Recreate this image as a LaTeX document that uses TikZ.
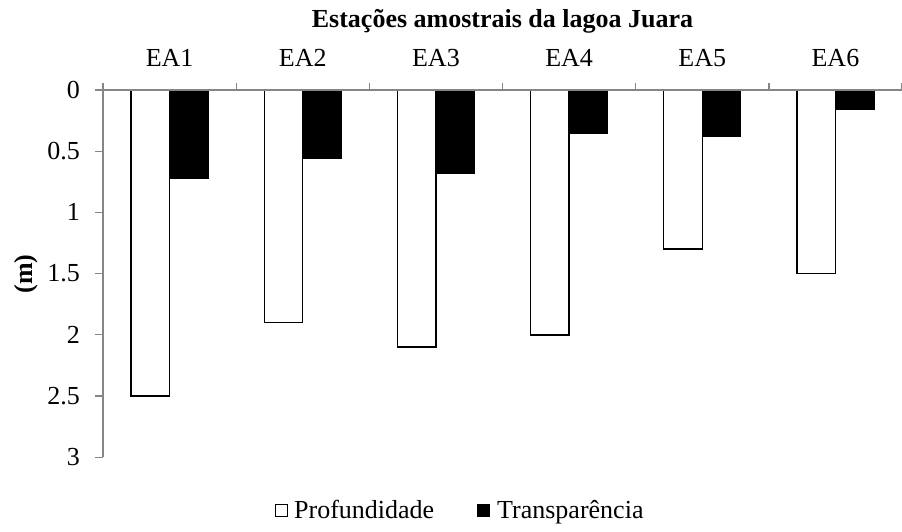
\documentclass[tikz,border=0pt]{standalone}
\usepackage{fontspec}
\setmainfont{Liberation Serif}
\definecolor{axisgray}{HTML}{868686}
\begin{document}
\begin{tikzpicture}[x=1pt,y=-1pt,
  axis/.style={draw=axisgray, line width=1.3pt},
  lbl/.style={font=\fontsize{26}{30}\selectfont, inner sep=0pt},
  whitebar/.style={draw=black, fill=white, line width=1.4pt},
  blackbar/.style={draw=black, fill=black, line width=0.6pt},
  keybox/.style={draw=black, line width=1pt}]
\useasboundingbox (0,0) rectangle (902,532);
% title
\node[lbl, font=\fontsize{26}{30}\selectfont\bfseries, anchor=base] (title) at (502.5,28) {Estações amostrais da lagoa Juara};
% bars and category labels
\foreach \i/\p/\t/\lab in {0/2.5/0.72/EA1, 1/1.9/0.555/EA2, 2/2.1/0.68/EA3, 3/2.0/0.35/EA4, 4/1.3/0.38/EA5, 5/1.5/0.155/EA6} {
  \pgfmathsetmacro{\cx}{103+133.17*\i+66.58}
  \draw[whitebar] (\cx-38.5,90) rectangle (\cx,90+122.4*\p);
  \draw[blackbar] (\cx,90) rectangle (\cx+38.5,90+122.4*\t);
  \node[lbl, anchor=base] (cat\i) at (\cx,67) {\lab};
}
% axes
\draw[axis] (103,90) -- (902,90);
\draw[axis] (103,90) -- (103,457.2);
\foreach \k in {0,...,6} \draw[axis] (103+133.17*\k,90) -- ++(0,-7);
\foreach \v [count=\j] in {0,0.5,1,1.5,2,2.5,3} {
  \draw[axis] (103,90+122.4*\v) -- ++(-8,0);
  \node[lbl, anchor=east] (yt\j) at (80,90+122.4*\v) {\v};
}
% y label
\node[lbl, font=\fontsize{26}{30}\selectfont\bfseries, rotate=90] (ylab) at (26,274) {(m)};
% legend
\draw[keybox, fill=white] (275,504) rectangle (287,516);
\node[lbl, anchor=base west] (leg1) at (294,518) {Profundidade};
\draw[keybox, fill=black] (477,504) rectangle (489,516);
\node[lbl, anchor=base west] (leg2) at (497,518) {Transparência};
\end{tikzpicture}
\end{document}
